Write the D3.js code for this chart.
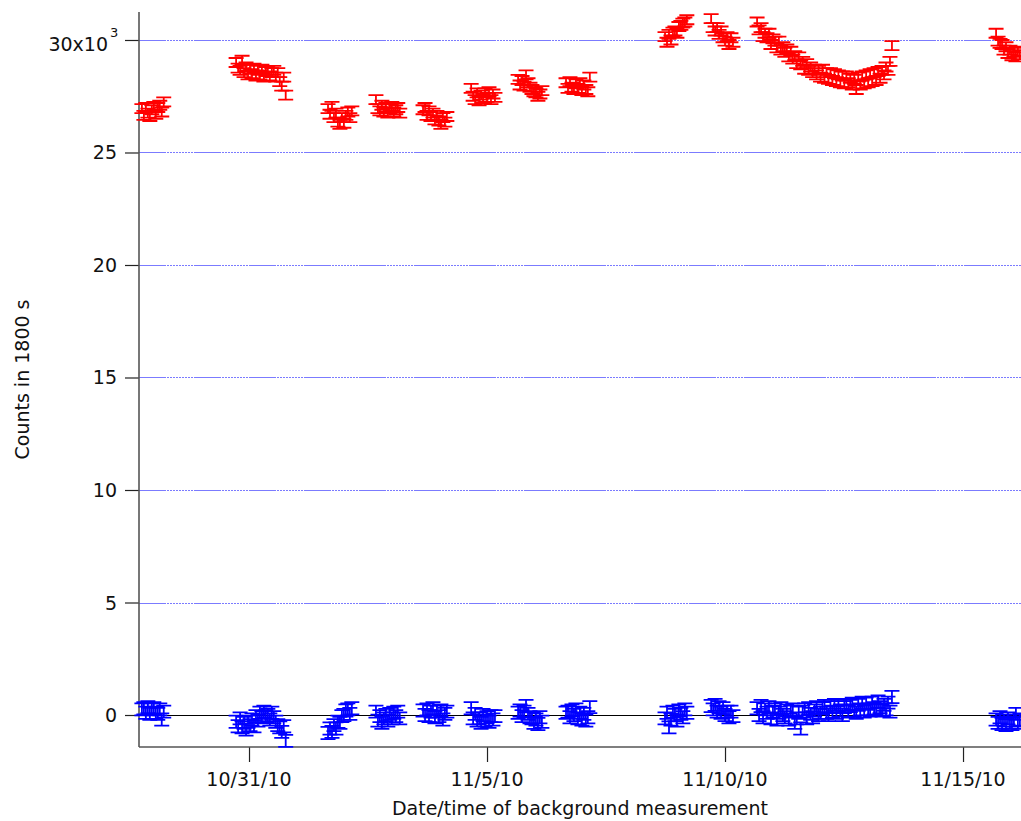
<!DOCTYPE html>
<html>
<head>
<meta charset="utf-8">
<script src="https://cdn.jsdelivr.net/npm/d3@7"></script>
<style>
  html, body { margin: 0; padding: 0; background: #fff; }
  svg { display: block; }
  text { font-family: "DejaVu Sans", Verdana, sans-serif; fill: #111; }
</style>
</head>
<body>
<svg id="chart" width="1021" height="821"></svg>
<script>
// ---------------- data ----------------
// start time of each background run; points are every stepHours hours
const runStart = [
  "2010-10-28T18:00", "2010-10-30T17:30", "2010-11-01T15:50", "2010-11-02T16:00",
  "2010-11-03T15:45", "2010-11-04T16:00", "2010-11-05T15:40", "2010-11-06T15:50",
  "2010-11-08T17:45", "2010-11-09T17:00", "2010-11-10T16:10", "2010-11-15T16:40"
];
const stepHours = 1;

// red series: total counts in 1800 s
const redCounts = [
  [26950, 26650, 27000, 26750, 26600, 26900, 27050, 26700, 27000, 27100, 26800, 27250],
  [29000, 28750, 28650, 29100, 28550, 28800, 28450, 28700, 28500, 28750, 28400, 28650, 28450, 28700, 28350, 28600, 28650, 28400, 28550, 28650, 28350, 28550, 28150, 27950, 28350, 27550],
  [26950, 26700, 27050, 26550, 26750, 26350, 26250, 26550, 26300, 26650, 26800, 26550, 26850],
  [27350, 26950, 26850, 27100, 26800, 27000, 26750, 26950, 27050, 26800, 26900, 27000, 26750],
  [26900, 27000, 26650, 26850, 26600, 26750, 26450, 26650, 26400, 26250, 26550, 26350, 26600],
  [27850, 27500, 27350, 27650, 27300, 27550, 27400, 27650, 27450, 27700, 27350, 27600, 27450],
  [28250, 28000, 28200, 27950, 28450, 28100, 27900, 27800, 27700, 27650, 27500, 27600, 27750],
  [28100, 27850, 28150, 27900, 27800, 28050, 27850, 28100, 27750, 28000, 27800, 27700, 28350],
  [30150, 29900, 30250, 30000, 30350, 30400, 30300, 30600, 30650, 30750, 30800, 30900],
  [30950, 30550, 30400, 30550, 30250, 30400, 30100, 29950, 30150, 29800, 30100, 29900],
  [30800, 30450, 30550, 30150, 30300, 30100, 30300, 29800, 30050, 29950,
   29650, 29950, 29550, 29700, 29450, 29600, 29250, 29500, 29150, 29300,
   28950, 29250, 28900, 29050, 28700, 28950, 28650, 28800, 28550, 28700,
   28450, 28650, 28350, 28700, 28300, 28550, 28250, 28550, 28200, 28500,
   28150, 28450, 28100, 28400, 28050, 28400, 28100, 28300, 28000, 28250,
   27800, 28350, 28000, 28400, 28050, 28450, 28100, 28500, 28150, 28550,
   28200, 28600, 28300, 28650, 28450, 28800, 28650, 29050, 29750],
  [30300, 29950, 29850, 29800, 29550, 29700, 29400, 29550, 29300, 29450, 29250, 29500, 29350]
];

// blue series: net counts in 1800 s
const blueCounts = [
  [250, 300, 100, 350, 50, 250, 300, 100, 50, 250, -200, 150],
  [-300, -500, -150, -550, -350, -650, -300, -450, -200, -500, -50, -250, 100, -100, 150, -50, 0, -200, 100, -100, -300, -450, -550, -750, -500, -1150],
  [-800, -600, -750, -450, -600, -300, -350, -50, 0, 200, 250, 50, 300],
  [150, -250, -50, -350, -150, 0, -250, 50, -150, 100, -50, 150, -150],
  [200, 0, 250, -50, 150, 300, -100, 150, -50, 200, -200, 50, 150],
  [300, -150, 50, -250, -150, -350, 0, -250, -100, -300, -50, -200, -50],
  [100, 200, -50, 150, 400, 50, -100, -150, -350, -200, -400, -100, -300],
  [100, 150, -100, 200, 0, 250, -150, 100, -200, 50, -250, -100, 350],
  [-150, 100, -550, -200, 150, 0, -250, 200, 50, -100, 250, 100],
  [400, 250, 450, 150, 350, 100, 300, 0, 150, -100, 150, -50],
  [300, 0, 400, -100, 250, 100, 350, -150, 150, 250,
   -200, 100, 300, 0, -100, 200, -200, 150, 250, -350,
   -150, 100, -600, 150, 250, -150, 300, 50, -100, 200,
   350, 0, 100, 300, 400, 100, 0, 350, 150, 450,
   100, 400, 200, 0, 350, 450, 150, 400, 500, 200,
   100, 450, 250, 550, 150, 500, 250, 200, 550, 300,
   250, 600, 350, 200, 450, 250, 550, 150, 800],
  [-200, -350, -100, -400, -250, -450, -150, -350, -400, -250, 50, -350, -200]
];

const redErr = 200;   // ± counts
const blueErr = 270;  // ± counts

const yTicks = [0, 5000, 10000, 15000, 20000, 25000, 30000];
const yTickLabels = ["0", "5", "10", "15", "20", "25", "30x10"];
const xTickDates = ["2010-10-31T00:00", "2010-11-05T00:00", "2010-11-10T00:00", "2010-11-15T00:00"];
const xDomain = ["2010-10-28T16:32", "2010-11-16T05:14"];
const yDomain = [-1422, 31244];

// ---------------- chart ----------------
const parse = d3.timeParse("%Y-%m-%dT%H:%M");
const svg = d3.select("#chart");
const L = 139, R = 1021, T = 12, B = 747;

const x = d3.scaleTime().domain(xDomain.map(parse)).range([L, R]);
const y = d3.scaleLinear().domain(yDomain).range([B, T]);

// grid lines (dashed/dotted light blue)
svg.append("g").selectAll("line")
  .data(yTicks.filter(d => d !== 0))
  .join("line")
  .attr("x1", L).attr("x2", R)
  .attr("y1", d => Math.round(y(d)) + 0.5).attr("y2", d => Math.round(y(d)) + 0.5)
  .attr("stroke", "#7b7bff")
  .attr("stroke-width", 1)
  .attr("stroke-dasharray", "26,0,1,1,2,1,2,1,2,1,2,1,2,1,2,1,2,1,2,1,2,1");

// zero line
svg.append("line")
  .attr("x1", L).attr("x2", R)
  .attr("y1", Math.round(y(0)) + 0.5).attr("y2", Math.round(y(0)) + 0.5)
  .attr("stroke", "#000").attr("stroke-width", 1);

// y axis
const yAxis = d3.axisLeft(y).tickValues(yTicks).tickSize(14).tickFormat("");
const gy = svg.append("g").attr("transform", `translate(${L},0)`).call(yAxis);
gy.select(".domain").remove();
gy.selectAll(".tick line").attr("stroke", "#222").attr("stroke-width", 1.2);

svg.append("line").attr("x1", L).attr("x2", L).attr("y1", T).attr("y2", B)
  .attr("stroke", "#555").attr("stroke-width", 1.6);

const ylab = svg.append("g").selectAll("text")
  .data(yTicks)
  .join("text")
  .attr("x", 117)
  .attr("y", d => y(d) + 7)
  .attr("text-anchor", "end")
  .attr("font-size", 19)
  .text((d, i) => yTickLabels[i]);
// superscript for the top label
ylab.filter(d => d === 30000)
  .attr("x", 108)
  .attr("y", d => y(d) + 11);
svg.append("text")
  .attr("x", 110).attr("y", y(30000) - 3)
  .attr("font-size", 13)
  .text("3");

// x axis
const xAxis = d3.axisBottom(x).tickValues(xTickDates.map(parse)).tickSize(15).tickFormat("");
const gx = svg.append("g").attr("transform", `translate(0,${B})`).call(xAxis);
gx.select(".domain").remove();
gx.selectAll(".tick line").attr("stroke", "#222").attr("stroke-width", 1.2);
svg.append("line").attr("x1", L).attr("x2", R).attr("y1", B).attr("y2", B)
  .attr("stroke", "#555").attr("stroke-width", 1.6);

const fmt = d3.timeFormat("%-m/%-d/%y");
svg.append("g").selectAll("text")
  .data(xTickDates.map(parse))
  .join("text")
  .attr("x", d => x(d))
  .attr("y", 786)
  .attr("text-anchor", "middle")
  .attr("font-size", 19)
  .text(d => fmt(d));

svg.append("text")
  .attr("x", (L + R) / 2).attr("y", 815)
  .attr("text-anchor", "middle")
  .attr("font-size", 19)
  .text("Date/time of background measurement");

svg.append("text")
  .attr("transform", `translate(29,${(T + B) / 2}) rotate(-90)`)
  .attr("text-anchor", "middle")
  .attr("font-size", 19)
  .text("Counts in 1800 s");

// error bars
function points(series, err) {
  const out = [];
  series.forEach((vals, r) => {
    const t0 = parse(runStart[r]);
    vals.forEach((v, i) => {
      out.push({ t: d3.timeHour.offset(t0, i * stepHours), v, err });
    });
  });
  return out;
}
const cap = 7.5;
function barPath(d) {
  const cx = x(d.t), y1 = y(d.v - d.err), y2 = y(d.v + d.err);
  return `M${cx - cap},${y1}H${cx + cap}M${cx},${y1}V${y2}M${cx - cap},${y2}H${cx + cap}`;
}
svg.append("g").selectAll("path")
  .data(points(redCounts, redErr))
  .join("path")
  .attr("d", barPath)
  .attr("fill", "none")
  .attr("stroke", "#ff0000")
  .attr("stroke-width", 1.8);

svg.append("g").selectAll("path")
  .data(points(blueCounts, blueErr))
  .join("path")
  .attr("d", barPath)
  .attr("fill", "none")
  .attr("stroke", "#0000ff")
  .attr("stroke-width", 1.8);
</script>
</body>
</html>
